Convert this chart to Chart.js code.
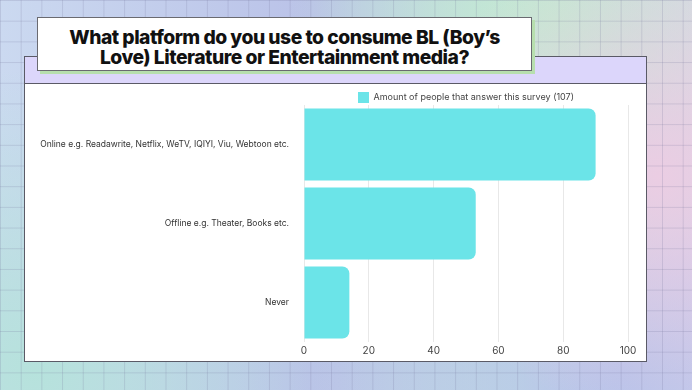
<!DOCTYPE html>
<html lang="en">
<head>
    <meta charset="UTF-8">
    <title>BL platform survey</title>
    <script src="https://cdn.jsdelivr.net/npm/chart.js"></script>
    <style>
        html, body {
            margin: 0;
            padding: 0;
        }
        body {
            width: 692px;
            height: 390px;
            position: relative;
            overflow: hidden;
            font-family: Inter, sans-serif;
            background:
                linear-gradient(rgba(110,110,150,0.2) 1px, transparent 1px) 0 0 / 20.7px 20.7px,
                linear-gradient(90deg, rgba(110,110,150,0.2) 1px, transparent 1px) 0 0 / 20.7px 20.7px,
                radial-gradient(circle at 95% 45%, #ebcde3 0%, transparent 35%),
                radial-gradient(circle at 80% 5%, #c3e9d1 0%, transparent 40%),
                radial-gradient(circle at 5% 95%, #b6e2dc 0%, transparent 40%),
                radial-gradient(circle at 90% 95%, #b6c2ea 0%, transparent 40%),
                linear-gradient(90deg, #cbd9f0 0%, #bac2e8 45%, #c1e0e0 75%, #d9d3ec 100%);
        }
        .head {
            position: absolute;
            left: 24px;
            top: 56px;
            width: 621px;
            height: 26px;
            background: #dcd6fb;
            border: 1px solid #5a5a66;
        }
        .panel {
            position: absolute;
            left: 24px;
            top: 83px;
            width: 621px;
            height: 277px;
            background: #ffffff;
            border: 1px solid #5a5a66;
        }
        .title {
            position: absolute;
            left: 37px;
            top: 17px;
            width: 495px;
            height: 54px;
            background: #ffffff;
            border: 1px solid #6a6a70;
            box-shadow: 3px 3px 0 #b7dfae;
            display: flex;
            align-items: center;
            justify-content: center;
            text-align: center;
            font-weight: 800;
            font-size: 19.3px;
            line-height: 20px;
            letter-spacing: -0.5px;
            color: #111;
            padding-top: 5px;
            box-sizing: border-box;
        }
        #wrap {
            position: absolute;
            left: 25px;
            top: 84px;
            width: 620px;
            height: 276px;
        }
    </style>
</head>
<body>
    <div class="head"></div>
    <div class="panel"></div>
    <div class="title">What platform do you use to consume BL (Boy’s<br>Love) Literature or Entertainment media?</div>
    <div id="wrap"><canvas id="grafico"></canvas></div>

    <script>
        const categorias = [
            'Online e.g. Readawrite, Netflix, WeTV, IQIYI, Viu, Webtoon etc.',
            'Offline e.g. Theater, Books etc.',
            'Never'
        ];
        const respostas = [90, 53, 14];
        const legenda = 'Amount of people that answer this survey (107)';

        new Chart(document.getElementById('grafico'), {
            type: 'bar',
            data: {
                labels: categorias,
                datasets: [{
                    label: legenda,
                    data: respostas,
                    backgroundColor: '#6be4e8',
                    borderRadius: { topRight: 7, bottomRight: 7 },
                    borderSkipped: 'start',
                    categoryPercentage: 0.91,
                    barPercentage: 1
                }]
            },
            options: {
                indexAxis: 'y',
                responsive: true,
                maintainAspectRatio: false,
                animation: false,
                layout: {
                    padding: { left: 0, right: 17, top: 5, bottom: 0 }
                },
                plugins: {
                    legend: {
                        fullSize: false,
                        maxHeight: 16,
                        labels: {
                            boxWidth: 11,
                            boxHeight: 11,
                            color: '#444',
                            font: { family: 'Inter', size: 9 },
                            padding: 3
                        }
                    },
                    tooltip: { enabled: false }
                },
                scales: {
                    x: {
                        min: 0,
                        max: 100,
                        ticks: {
                            stepSize: 20,
                            color: '#444',
                            padding: 3,
                            font: { family: 'Inter', size: 10 }
                        },
                        grid: {
                            color: '#e8e8e8',
                            drawTicks: false
                        },
                        border: { display: false }
                    },
                    y: {
                        ticks: {
                            color: '#333',
                            padding: 7,
                            font: { family: 'Inter', size: 8.5 }
                        },
                        grid: { display: false },
                        border: { display: false },
                        afterFit: (escala) => { escala.width = 279; }
                    }
                }
            }
        });
    </script>
</body>
</html>
